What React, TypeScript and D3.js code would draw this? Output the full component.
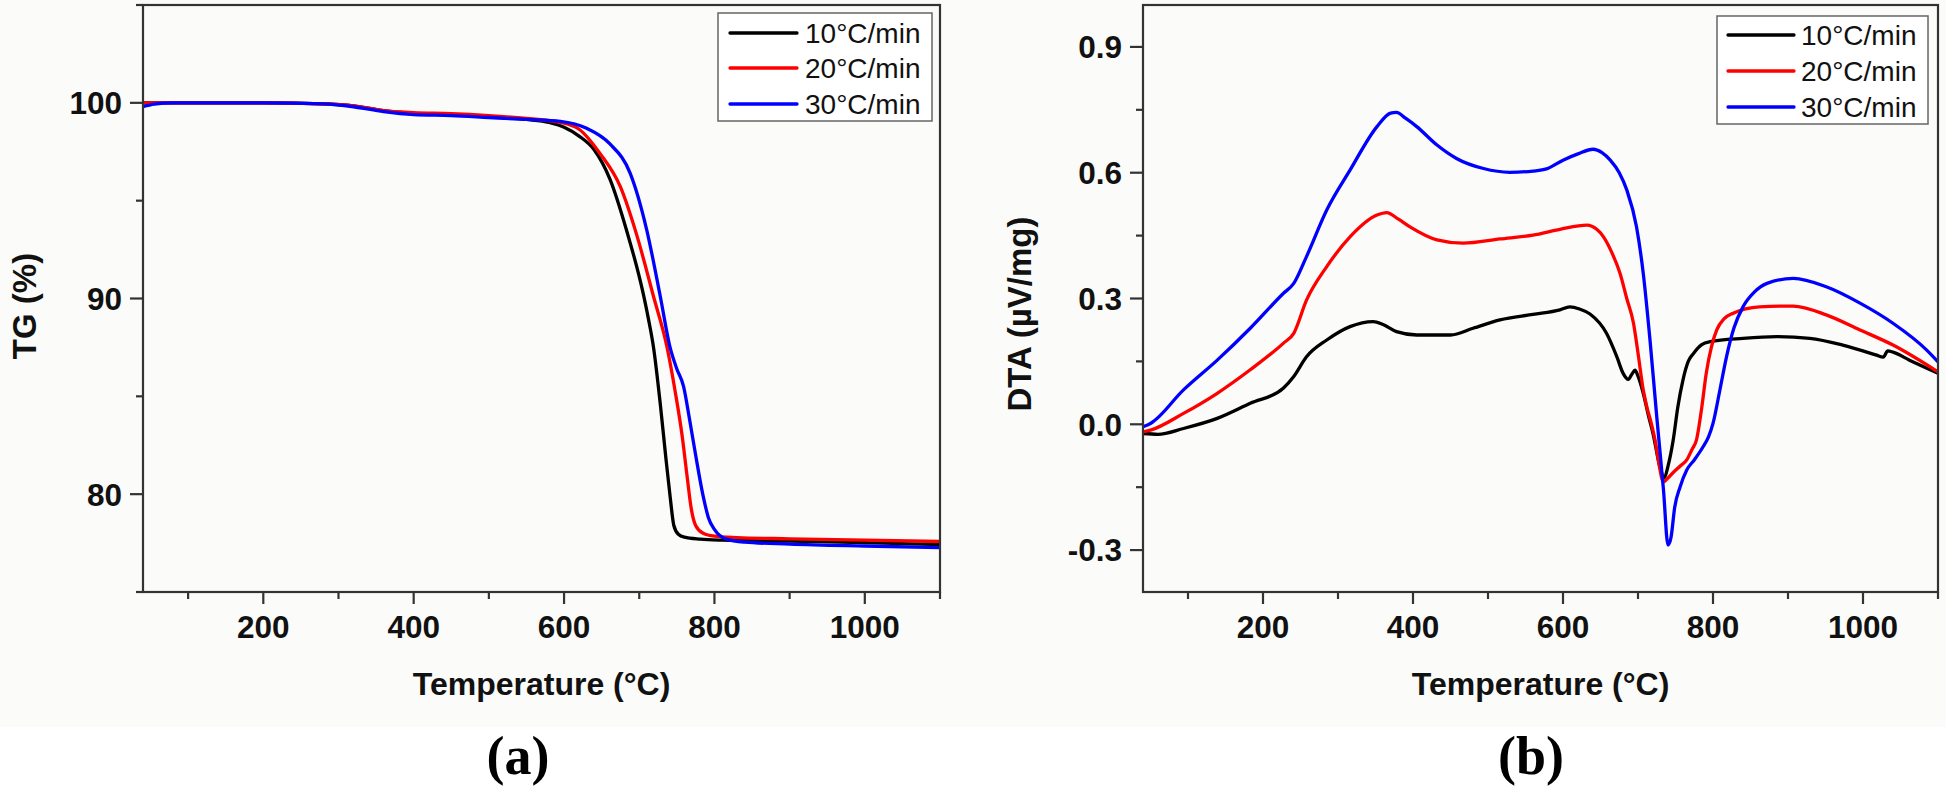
import React from "react";
import * as d3 from "d3";

// ---------- DATA ----------
const seriesNames = ["10°C/min", "20°C/min", "30°C/min"];
const seriesColors = ["#000000", "#ff0000", "#0000ff"];

const xMajorTicks = [200, 400, 600, 800, 1000];
const xMinorTicks = [100, 300, 500, 700, 900, 1100];
const tgMajorTicks = [80, 90, 100];
const tgMinorTicks = [75, 85, 95, 105];
const dtaMajorTicks = [-0.3, 0.0, 0.3, 0.6, 0.9];
const dtaMinorTicks = [-0.15, 0.15, 0.45, 0.75];

// TG (%) vs temperature (°C)
const tg10: [number, number][] = [
  [40, 100], [100, 100], [200, 100], [280, 99.95], [320, 99.85], [360, 99.6], [400, 99.45],
  [450, 99.4], [500, 99.3], [550, 99.15], [580, 99.0], [600, 98.75], [620, 98.3], [640, 97.6],
  [661, 96.1], [683, 93.5], [705, 90.3], [712, 89.0], [719, 87.5], [728, 84.6], [735, 82.0],
  [741, 79.9], [746, 78.4], [752, 77.95], [760, 77.8], [781, 77.7], [810, 77.65], [900, 77.6],
  [1000, 77.52], [1100, 77.42],
];
const tg20: [number, number][] = [
  [40, 100], [100, 100], [200, 100], [280, 99.95], [320, 99.85], [360, 99.6], [400, 99.5],
  [450, 99.45], [500, 99.35], [550, 99.2], [595, 99.0], [620, 98.65], [648, 97.4], [675, 95.7],
  [697, 93.2], [719, 90.1], [737, 87.5], [748, 85.2], [757, 83.0], [764, 80.8], [769, 79.3],
  [775, 78.4], [785, 78.0], [800, 77.85], [830, 77.78], [900, 77.72], [1000, 77.65], [1100, 77.58],
];
const tg30: [number, number][] = [
  [40, 99.8], [55, 99.93], [80, 100], [200, 100], [280, 99.95], [320, 99.8], [360, 99.55],
  [400, 99.4], [450, 99.35], [500, 99.25], [550, 99.15], [595, 99.05], [630, 98.7], [661, 97.9],
  [688, 96.4], [710, 93.5], [728, 90.1], [741, 87.5], [750, 86.4], [759, 85.5], [767, 83.8],
  [775, 82.0], [785, 79.9], [792, 78.8], [800, 78.2], [816, 77.7], [840, 77.55], [900, 77.45],
  [1000, 77.35], [1100, 77.27],
];

// DTA (µV/mg) vs temperature (°C)
const dta10: [number, number][] = [
  [40, -0.022], [60, -0.024], [94, -0.01], [139, 0.014], [183, 0.05], [227, 0.086], [241, 0.114],
  [258, 0.161], [285, 0.201], [316, 0.233], [347, 0.245], [360, 0.238], [378, 0.221], [405, 0.213],
  [450, 0.213], [480, 0.229], [516, 0.249], [560, 0.262], [596, 0.273], [609, 0.28], [622, 0.275],
  [636, 0.263], [658, 0.217], [672, 0.16], [680, 0.122], [687, 0.107], [692, 0.12], [696, 0.129],
  [700, 0.115], [707, 0.074], [714, 0.02], [720, -0.022], [729, -0.1], [735, -0.128], [740, -0.1],
  [747, -0.037], [753, 0.04], [760, 0.106], [767, 0.15], [774, 0.169], [785, 0.19], [796, 0.197],
  [840, 0.205], [885, 0.209], [929, 0.205], [973, 0.189], [1018, 0.165], [1027, 0.16],
  [1033, 0.175], [1040, 0.172], [1062, 0.153], [1100, 0.122],
];
const dta20: [number, number][] = [
  [40, -0.018], [50, -0.014], [94, 0.026], [139, 0.074], [183, 0.13], [227, 0.193], [241, 0.217],
  [258, 0.296], [285, 0.376], [316, 0.447], [352, 0.499], [365, 0.505], [380, 0.49], [396, 0.471],
  [432, 0.44], [467, 0.432], [516, 0.442], [560, 0.451], [596, 0.465], [632, 0.475], [645, 0.465],
  [654, 0.447], [665, 0.41], [676, 0.36], [685, 0.3], [694, 0.241], [700, 0.17], [707, 0.082],
  [712, 0.04], [718, 0.0], [723, -0.04], [727, -0.085], [734, -0.137], [740, -0.128],
  [747, -0.115], [756, -0.1], [765, -0.085], [772, -0.06], [778, -0.037], [785, 0.04],
  [791, 0.122], [798, 0.185], [805, 0.225], [815, 0.252], [827, 0.265], [862, 0.28], [907, 0.282],
  [951, 0.261], [996, 0.225], [1040, 0.189], [1100, 0.125],
];
const dta30: [number, number][] = [
  [40, -0.006], [50, 0.002], [94, 0.082], [139, 0.153], [183, 0.229], [227, 0.312], [241, 0.336],
  [258, 0.4], [285, 0.511], [316, 0.606], [352, 0.71], [370, 0.742], [378, 0.744], [390, 0.73],
  [405, 0.71], [432, 0.666], [458, 0.634], [494, 0.61], [529, 0.601], [560, 0.604], [578, 0.609],
  [600, 0.63], [620, 0.645], [640, 0.656], [652, 0.648], [663, 0.63], [675, 0.6], [685, 0.559],
  [698, 0.471], [707, 0.36], [716, 0.201], [725, 0.018], [734, -0.157], [740, -0.288],
  [744, -0.27], [749, -0.197], [756, -0.15], [765, -0.109], [775, -0.085], [787, -0.053],
  [794, -0.03], [800, 0.002], [809, 0.08], [818, 0.161], [828, 0.23], [840, 0.28], [855, 0.315],
  [872, 0.336], [907, 0.348], [951, 0.328], [996, 0.289], [1040, 0.241], [1085, 0.177],
  [1100, 0.149],
];

const tgSeries = [tg10, tg20, tg30];
const dtaSeries = [dta10, dta20, dta30];

// ---------- LAYOUT ----------
const W = 1946;
const H = 797;
const SANS = "'Liberation Sans', Arial, Helvetica, sans-serif";
const SERIF = "'Liberation Serif', 'Times New Roman', serif";
const AXIS = "#333333";

type PanelProps = {
  id: string;
  x0: number;
  x1: number;
  yTop: number;
  yBot: number;
  yDomain: [number, number];
  yMajor: number[];
  yMinor: number[];
  yFormat: (v: number) => string;
  series: [number, number][][];
  yTitle: React.ReactNode;
  yTitleX: number;
  yTitleY: number;
  legend: { x: number; y: number; w: number; h: number; rows: number[]; lineX0: number; lineX1: number; textX: number };
  panelLabel: string;
  panelLabelX: number;
};

function Panel(p: PanelProps) {
  const x = d3.scaleLinear().domain([40, 1100]).range([p.x0, p.x1]);
  const y = d3.scaleLinear().domain(p.yDomain).range([p.yBot, p.yTop]);
  const line = d3
    .line<[number, number]>()
    .x((d) => x(d[0]))
    .y((d) => y(d[1]))
    .curve(d3.curveMonotoneX);
  const cx = (p.x0 + p.x1) / 2;
  return (
    <g>
      <defs>
        <clipPath id={`clip-${p.id}`}>
          <rect x={p.x0} y={p.yTop} width={p.x1 - p.x0} height={p.yBot - p.yTop} />
        </clipPath>
      </defs>
      <g clipPath={`url(#clip-${p.id})`}>
        {p.series.map((s, i) => (
          <path key={i} d={line(s) || ""} fill="none" stroke={seriesColors[i]} strokeWidth={3.3} strokeLinejoin="round" strokeLinecap="round" />
        ))}
      </g>
      {/* frame */}
      <rect x={p.x0} y={p.yTop} width={p.x1 - p.x0} height={p.yBot - p.yTop} fill="none" stroke={AXIS} strokeWidth={2.2} />
      {/* x ticks */}
      {xMajorTicks.map((t) => (
        <g key={`xM${t}`}>
          <line x1={x(t)} x2={x(t)} y1={p.yBot} y2={p.yBot + 12} stroke={AXIS} strokeWidth={2.2} />
          <text x={x(t)} y={p.yBot + 46} textAnchor="middle" fontFamily={SANS} fontWeight="bold" fontSize={31.5} fill="#111">
            {t}
          </text>
        </g>
      ))}
      {xMinorTicks.map((t) => (
        <line key={`xm${t}`} x1={x(t)} x2={x(t)} y1={p.yBot} y2={p.yBot + 7} stroke={AXIS} strokeWidth={2.2} />
      ))}
      {/* y ticks */}
      {p.yMajor.map((t) => (
        <g key={`yM${t}`}>
          <line x1={p.x0 - 13} x2={p.x0} y1={y(t)} y2={y(t)} stroke={AXIS} strokeWidth={2.2} />
          <text x={p.x0 - 21} y={y(t)} dy="0.36em" textAnchor="end" fontFamily={SANS} fontWeight="bold" fontSize={31.5} fill="#111">
            {p.yFormat(t)}
          </text>
        </g>
      ))}
      {p.yMinor.map((t) => (
        <line key={`ym${t}`} x1={p.x0 - 7} x2={p.x0} y1={y(t)} y2={y(t)} stroke={AXIS} strokeWidth={2.2} />
      ))}
      {/* axis titles */}
      <text x={cx} y={695} textAnchor="middle" fontFamily={SANS} fontWeight="bold" fontSize={32} fill="#111">
        Temperature (°C)
      </text>
      <text transform={`translate(${p.yTitleX},${p.yTitleY}) rotate(-90)`} textAnchor="middle" fontFamily={SANS} fontWeight="bold" fontSize={33} fill="#111">
        {p.yTitle}
      </text>
      {/* legend */}
      <rect x={p.legend.x} y={p.legend.y} width={p.legend.w} height={p.legend.h} fill="#ffffff" stroke="#666" strokeWidth={1.5} />
      {seriesNames.map((n, i) => (
        <g key={n}>
          <line x1={p.legend.lineX0} x2={p.legend.lineX1} y1={p.legend.rows[i]} y2={p.legend.rows[i]} stroke={seriesColors[i]} strokeWidth={3.3} strokeLinecap="round" />
          <text x={p.legend.textX} y={p.legend.rows[i]} dy="0.36em" fontFamily={SANS} fontSize={28} fill="#111">
            {n}
          </text>
        </g>
      ))}
      {/* panel label */}
      <text x={p.panelLabelX} y={774} textAnchor="middle" fontFamily={SERIF} fontWeight="bold" fontSize={54} fill="#000">
        {p.panelLabel}
      </text>
    </g>
  );
}

export default function App() {
  return (
    <svg width={W} height={H} viewBox={`0 0 ${W} ${H}`} style={{ position: "absolute", left: 0, top: 0, background: "#fff" }}>
      <rect x={0} y={0} width={W} height={H} fill="#ffffff" />
      <rect x={0} y={0} width={W} height={727} fill="#fbfbf9" />
      <Panel
        id="tg"
        x0={143}
        x1={940}
        yTop={5}
        yBot={592}
        yDomain={[75, 105]}
        yMajor={tgMajorTicks}
        yMinor={tgMinorTicks}
        yFormat={(v) => d3.format("d")(v)}
        series={tgSeries}
        yTitle="TG (%)"
        yTitleX={36}
        yTitleY={306}
        legend={{ x: 718, y: 13, w: 214, h: 108, rows: [33, 68, 104], lineX0: 730, lineX1: 797, textX: 805 }}
        panelLabel="(a)"
        panelLabelX={518}
      />
      <Panel
        id="dta"
        x0={1143}
        x1={1938}
        yTop={5}
        yBot={592}
        yDomain={[-0.4, 1.0]}
        yMajor={dtaMajorTicks}
        yMinor={dtaMinorTicks}
        yFormat={(v) => d3.format(".1f")(v).replace("−", "-")}
        series={dtaSeries}
        yTitle="DTA (µV/mg)"
        yTitleX={1031}
        yTitleY={314}
        legend={{ x: 1717, y: 16, w: 211, h: 108, rows: [35, 71, 107], lineX0: 1728, lineX1: 1794, textX: 1801 }}
        panelLabel="(b)"
        panelLabelX={1531}
      />
    </svg>
  );
}
